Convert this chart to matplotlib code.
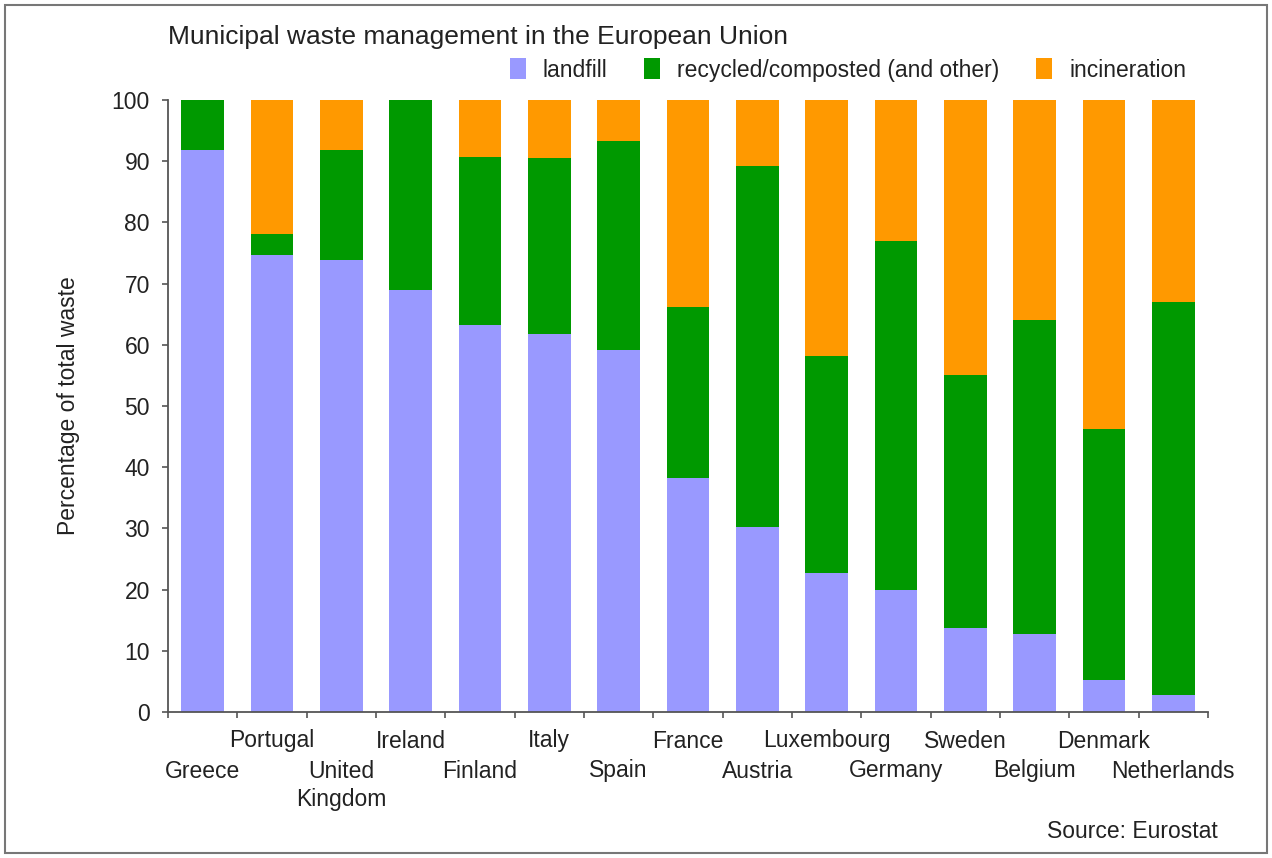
import matplotlib.pyplot as plt
import matplotlib.patches as mpatches
from matplotlib.transforms import blended_transform_factory

plt.rcParams["font.family"] = ["Liberation Sans", "DejaVu Sans"]

countries = ["Greece", "Portugal", "United\nKingdom", "Ireland", "Finland", "Italy",
             "Spain", "France", "Austria", "Luxembourg", "Germany", "Sweden",
             "Belgium", "Denmark", "Netherlands"]
landfill = [91.8, 74.7, 73.9, 69.0, 63.3, 61.8, 59.2, 38.2, 30.2, 22.7, 19.9, 13.7, 12.7, 5.2, 2.8]
recycled = [8.2, 3.4, 17.9, 31.0, 27.4, 28.7, 34.1, 28.0, 59.0, 35.5, 57.1, 41.3, 51.4, 41.0, 64.2]
incineration = [0.0, 21.9, 8.2, 0.0, 9.3, 9.5, 6.7, 33.8, 10.8, 41.8, 23.0, 45.0, 35.9, 53.8, 33.0]

c_land = "#9999ff"
c_rec = "#009900"
c_inc = "#ff9900"
txt = "#222222"

fig = plt.figure(figsize=(12.72, 8.58), dpi=100)
ax = fig.add_axes([168 / 1272, 1 - 712 / 858, 1040 / 1272, 612 / 858])

x = list(range(len(countries)))
w = 0.62
ax.bar(x, landfill, w, color=c_land, label="landfill")
ax.bar(x, recycled, w, bottom=landfill, color=c_rec, label="recycled/composted (and other)")
bottom3 = [a + b for a, b in zip(landfill, recycled)]
ax.bar(x, incineration, w, bottom=bottom3, color=c_inc, label="incineration")

ax.set_xlim(-0.5, len(countries) - 0.5)
ax.set_ylim(0, 100)
ax.set_yticks(range(0, 101, 10))
ax.set_xticks([i - 0.5 for i in range(len(countries) + 1)])
ax.set_xticklabels([])
ax.tick_params(axis="both", direction="out", length=4, width=1.2, color="#555555",
               labelsize=16.5, labelcolor=txt)
ax.tick_params(axis="y", pad=9)
for s in ["top", "right"]:
    ax.spines[s].set_visible(False)
for s in ["left", "bottom"]:
    ax.spines[s].set_color("#555555")
    ax.spines[s].set_linewidth(1.3)

ax.set_ylabel("Percentage of total waste", fontsize=16.5, color=txt)
ax.yaxis.set_label_coords(-0.085, 0.5)

# staggered category labels: odd ones on the upper row
trans = blended_transform_factory(ax.transData, fig.transFigure)
for i, name in enumerate(countries):
    if "\n" in name:
        ax.text(i, 1 - 760 / 858, name, transform=trans, ha="center", va="top",
                fontsize=16.5, color=txt, linespacing=1.3)
    else:
        y = 1 - 741 / 858 if i % 2 == 1 else 1 - 771 / 858
        ax.text(i, y, name, transform=trans, ha="center", va="center",
                fontsize=16.5, color=txt)

fig.text(168 / 1272, 1 - 37 / 858, "Municipal waste management in the European Union",
         fontsize=19, color=txt, va="center", ha="left")
fig.text(1218 / 1272, 1 - 832 / 858, "Source: Eurostat",
         fontsize=16.5, color=txt, va="center", ha="right")

handles, labels = ax.get_legend_handles_labels()
fig.legend(handles, labels, loc="center left", bbox_to_anchor=(489 / 1272, 1 - 70 / 858),
           ncol=3, frameon=False, fontsize=16.5, handlelength=0.7, handleheight=1.0,
           handletextpad=0.75, columnspacing=1.6, labelcolor=txt)

fig.patches.append(mpatches.Rectangle((5 / 1272, 5 / 858), 1262 / 1272, 848 / 858,
                                      transform=fig.transFigure, fill=False,
                                      edgecolor="#777777", linewidth=1.5))

fig.savefig("out.png", dpi=100)
